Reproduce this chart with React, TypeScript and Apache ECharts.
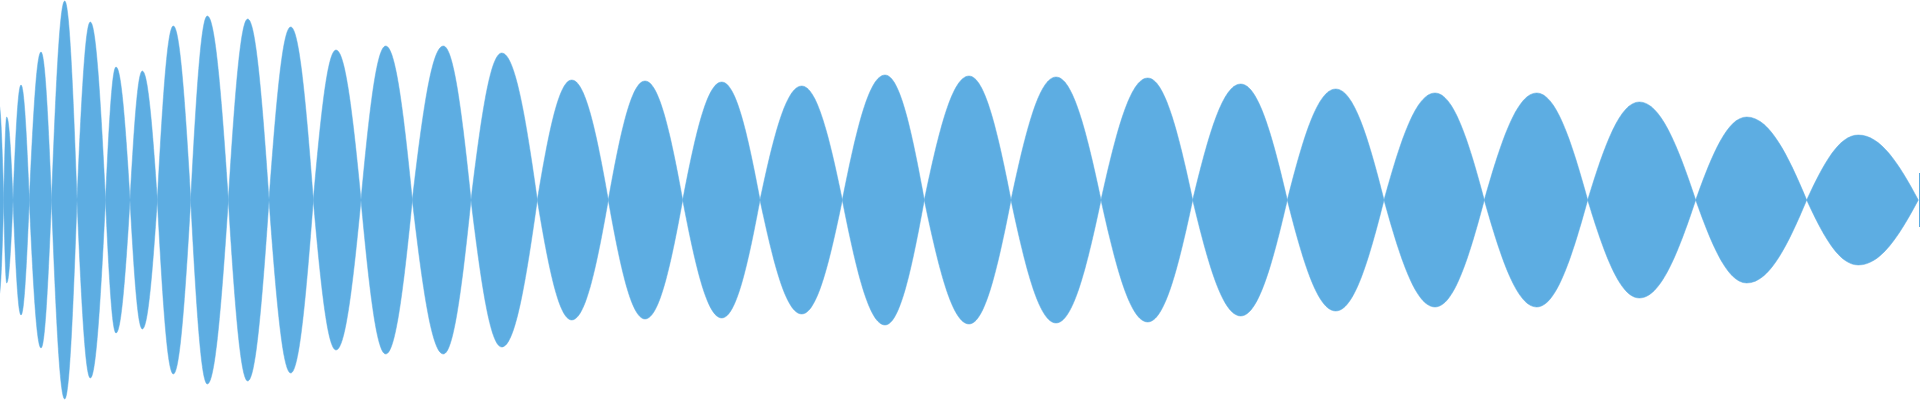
import React, { useEffect, useRef } from "react";
import * as echarts from "echarts";

// Zero crossings of the envelope (x, in samples); the first lobe starts off-screen
const crossings: number[] = [
  -5.5, 3.7, 13, 29.3, 51.5, 77, 105.5, 130, 157.3, 190.7, 228.3, 269, 313.3, 361, 412.3,
  471, 537.3, 608.3, 682.7, 760, 842.3, 924.3, 1011, 1101, 1192.7, 1287.3, 1384, 1484.3,
  1587.7, 1695.7, 1806.7, 1918.3,
];

// Peak position of each lobe (between consecutive crossings)
const peakX: number[] = [
  -1, 6.7, 21, 41, 64.7, 90.3, 116, 142.3, 173.3, 207.3, 247.7, 290.7, 336, 385.7, 443.3,
  501.7, 571.7, 645, 721.7, 801.7, 885, 969, 1056, 1147.7, 1240.7, 1335.7, 1435, 1536.7,
  1639.3, 1746.7, 1858.3,
];

// Peak amplitude of each lobe
const peakAmp: number[] = [
  95, 83, 115, 148, 199, 178, 133, 129, 174, 184, 181, 173, 150, 154, 154, 147, 120, 119,
  118, 114, 125, 124, 123, 122, 116, 111, 107, 107, 98, 83, 65,
];

// The thin sample standing at the right edge
const edgeX = 1919.5;
const edgeAmp = 27;

const COLOR = "#5dade2";

// cubic bezier control factors for one half-lobe (crossing -> peak), slightly fuller than a sine
const K1X = 0.33;
const K1Y = 0.57;
const K2X = 0.63;

export default function App() {
  const ref = useRef<HTMLDivElement>(null);

  useEffect(() => {
    document.body.style.margin = "0";
    if (!ref.current) return;
    const chart = echarts.init(ref.current, undefined, { renderer: "svg" });

    const lobes = peakX.map((p, i) => [crossings[i], p, crossings[i + 1], peakAmp[i]]);

    const renderItem = (params: any, api: any) => {
      const c0 = api.value(0);
      const p = api.value(1);
      const c1 = api.value(2);
      const a = api.value(3);
      const L = api.coord([c0, 0]);
      const T = api.coord([p, a]);
      const R = api.coord([c1, 0]);
      const B = api.coord([p, -a]);
      const x0 = L[0];
      const cy = L[1];
      const xp = T[0];
      const x1 = R[0];
      const top = T[1];
      const bot = B[1];
      const w1 = xp - x0;
      const w2 = x1 - xp;
      const f = (n: number) => n.toFixed(2);
      const d =
        `M${f(x0)} ${f(cy)}` +
        ` C${f(x0 + K1X * w1)} ${f(cy + (top - cy) * K1Y)} ${f(x0 + K2X * w1)} ${f(top)} ${f(xp)} ${f(top)}` +
        ` C${f(xp + (1 - K2X) * w2)} ${f(top)} ${f(xp + (1 - K1X) * w2)} ${f(cy + (top - cy) * K1Y)} ${f(x1)} ${f(cy)}` +
        ` C${f(x1 - K1X * w2)} ${f(cy + (bot - cy) * K1Y)} ${f(xp + (1 - K2X) * w2)} ${f(bot)} ${f(xp)} ${f(bot)}` +
        ` C${f(xp - (1 - K2X) * w1)} ${f(bot)} ${f(x0 + K1X * w1)} ${f(cy + (bot - cy) * K1Y)} ${f(x0)} ${f(cy)} Z`;
      return {
        type: "path",
        shape: {
          pathData: d,
          x: x0,
          y: top,
          width: x1 - x0,
          height: bot - top,
          layout: "cover",
        },
        style: { fill: COLOR, stroke: COLOR, lineWidth: 0.5 },
      };
    };

    chart.setOption({
      animation: false,
      grid: { left: 0, right: 0, top: 0, bottom: 0 },
      xAxis: { type: "value", min: 0, max: 1920, show: false },
      yAxis: { type: "value", min: -200, max: 200, show: false },
      series: [
        {
          type: "custom",
          name: "wave",
          silent: true,
          clip: true,
          renderItem,
          encode: { x: [0, 1, 2], y: 3 },
          data: lobes,
        },
        {
          type: "line",
          name: "edge",
          silent: true,
          showSymbol: false,
          symbol: "none",
          lineStyle: { color: COLOR, width: 1 },
          data: [
            [edgeX, -edgeAmp],
            [edgeX, edgeAmp],
          ],
        },
      ],
    });
    return () => chart.dispose();
  }, []);

  return <div ref={ref} style={{ width: 1920, height: 400 }} />;
}
